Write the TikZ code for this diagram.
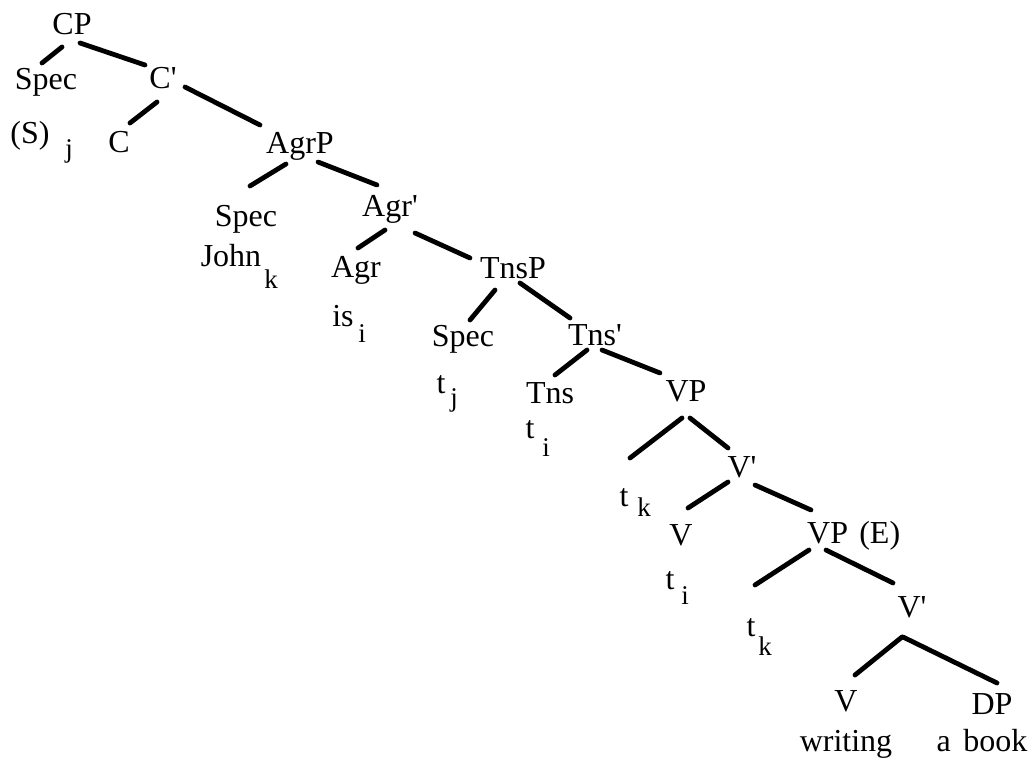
\documentclass[tikz,border=0pt]{standalone}
\usepackage{fontspec}
\setmainfont{Liberation Serif}
\newcommand{\pr}{\textquotesingle}
\begin{document}
\begin{tikzpicture}[x=1pt,y=-1pt,
  lbl/.style={inner sep=0pt,anchor=base,font=\fontsize{32}{34}\selectfont},
  lblw/.style={inner sep=0pt,anchor=base west,font=\fontsize{32}{34}\selectfont},
  sb/.style={inner sep=0pt,anchor=base,font=\fontsize{27}{29}\selectfont},
  br/.style={line width=4.8pt,line cap=round}]
\useasboundingbox[fill=white] (0,0) rectangle (1032,760);
% labels
\node[lbl] (CP) at (72,35) {CP};
\node[lbl] (Spec1) at (46,89) {Spec};
\node[lbl] (Cbar) at (163,88) {C\pr};
\node[lbl] (S) at (30,143) {(S)};
\node[sb] (Sj) at (69,157) {j};
\node[lbl] (C) at (119,152) {C};
\node[lbl] (AgrP) at (300,153) {AgrP};
\node[lbl] (Spec2) at (246,226) {Spec};
\node[lbl] (Agrbar) at (390,216) {Agr\pr};
\node[lbl] (John) at (231,266) {John};
\node[sb] (Johnk) at (271,288) {k};
\node[lbl] (Agr) at (356,277) {Agr};
\node[lbl] (TnsP) at (513,278) {TnsP};
\node[lbl] (is) at (343,326) {is};
\node[sb] (isi) at (362,342) {i};
\node[lbl] (Spec3) at (463,346) {Spec};
\node[lbl] (Tnsbar) at (595,345) {Tns\pr};
\node[lbl] (tj) at (441,393) {t};
\node[sb] (tjj) at (454,406) {j};
\node[lbl] (Tns) at (550,403) {Tns};
\node[lbl] (ti1) at (530,438) {t};
\node[sb] (ti1i) at (546,456) {i};
\node[lbl] (VP) at (686,401) {VP};
\node[lbl] (tk1) at (624,506) {t};
\node[sb] (tk1k) at (644,516) {k};
\node[lbl] (Vbar) at (742,477) {V\pr};
\node[lbl] (V1) at (681,545) {V};
\node[lblw] (VPE) at (807,543) {VP\hspace{0.35em}(E)};
\node[lbl] (ti2) at (670,589) {t};
\node[sb] (ti2i) at (685,604) {i};
\node[lbl] (tk2) at (751,636) {t};
\node[sb] (tk2k) at (765,655) {k};
\node[lbl] (Vbar2) at (912,617) {V\pr};
\node[lbl] (V2) at (846,711) {V};
\node[lbl] (DP) at (992,714) {DP};
\node[lbl] (writing) at (846,751) {writing};
\node[lbl] (abook) at (982,751) {a\hspace{0.4em}book};
% branches
\draw[br] ([shift={(-10,12)}]CP.base) -- ([shift={(-4,-26)}]Spec1.base);
\draw[br] ([shift={(8,8)}]CP.base) -- ([shift={(-18,-23)}]Cbar.base);
\draw[br] ([shift={(-6,14)}]Cbar.base) -- ([shift={(11,-29)}]C.base);
\draw[br] ([shift={(22,-1)}]Cbar.base) -- ([shift={(-40,-28)}]AgrP.base);
\draw[br] ([shift={(-14,11)}]AgrP.base) -- ([shift={(4,-40)}]Spec2.base);
\draw[br] ([shift={(18,9)}]AgrP.base) -- ([shift={(-13,-31)}]Agrbar.base);
\draw[br] ([shift={(-5,14)}]Agrbar.base) -- ([shift={(2,-29)}]Agr.base);
\draw[br] ([shift={(25,17)}]Agrbar.base) -- ([shift={(-43,-20)}]TnsP.base);
\draw[br] ([shift={(-18,12)}]TnsP.base) -- ([shift={(7,-26)}]Spec3.base);
\draw[br] ([shift={(7,5)}]TnsP.base) -- ([shift={(-25,-27)}]Tnsbar.base);
\draw[br] ([shift={(-8,5)}]Tnsbar.base) -- ([shift={(5,-28)}]Tns.base);
\draw[br] ([shift={(7,5)}]Tnsbar.base) -- ([shift={(-26,-28)}]VP.base);
\draw[br] ([shift={(-4,17)}]VP.base) -- ([shift={(6,-48)}]tk1.base);
\draw[br] ([shift={(4,17)}]VP.base) -- ([shift={(-14,-29)}]Vbar.base);
\draw[br] ([shift={(-14,5)}]Vbar.base) -- ([shift={(7,-37)}]V1.base);
\draw[br] ([shift={(13,8)}]Vbar.base) -- ([shift={(4,-33)}]VPE.base west);
\draw[br] ([shift={(2,7)}]VPE.base west) -- ([shift={(4,-51)}]tk2.base);
\draw[br] ([shift={(19,7)}]VPE.base west) -- ([shift={(-19,-34)}]Vbar2.base);
\draw[br] ([shift={(-10,20)}]Vbar2.base) -- ([shift={(9,-36)}]V2.base);
\draw[br] ([shift={(-9,20)}]Vbar2.base) -- ([shift={(5,-31)}]DP.base);
\end{tikzpicture}
\end{document}
